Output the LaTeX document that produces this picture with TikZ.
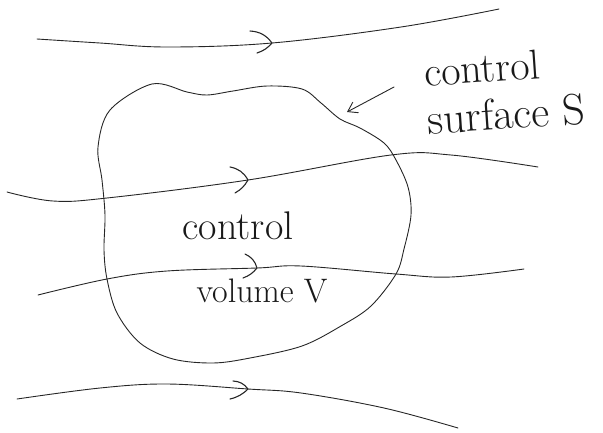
\documentclass[tikz,border=0pt]{standalone}
\usetikzlibrary{arrows.meta}
\begin{document}
\begin{tikzpicture}[x=1pt,y=-1pt,
  pencil/.style={draw=black!85,line width=0.9pt,line cap=round,line join=round},
  chev/.style={pencil,line width=1.1pt},
  hand/.style={text=black!90,inner sep=0pt,anchor=center}]
\useasboundingbox (0,0) rectangle (603,432);
% streamlines
\draw[pencil] plot[smooth,tension=0.6] coordinates {(37,39) (100,43) (167,47) (272,43) (401,27) (499,9)};
\draw[pencil] plot[smooth,tension=0.6] coordinates {(7,192) (53,201) (107,198) (248,180) (391,155) (451,155) (538,167)};
\draw[pencil] plot[smooth,tension=0.6] coordinates {(38,295) (107,279) (167,271) (257,268) (301,266) (396,274) (451,277) (524,269)};
\draw[pencil] plot[smooth,tension=0.6] coordinates {(17,399) (100,388) (167,384) (248,389) (301,393) (384,408) (458,428)};
% chevrons
\draw[chev] (250,31) to[bend left=25] (272,43) to[bend left=15] (257,53);
\draw[chev] (230,167) to[bend left=25] (248,180) to[bend left=15] (235,193);
\draw[chev] (245,254) to[bend left=25] (257,268) to[bend left=15] (243,278);
\draw[chev] (233,381) to[bend left=25] (248,389) to[bend left=15] (230,399);
% control surface
\draw[pencil] plot[smooth cycle,tension=0.55] coordinates {
 (152,84) (187,92) (207,95) (233,91) (267,86) (302,89) (321,103) (340,119)
 (360,128) (384,143) (396,160) (408,187) (411,215) (404,249) (396,274)
 (371,306) (341,326) (302,346) (250,358) (213,363) (173,359) (140,343)
 (117,313) (107,279) (104,250) (105,215) (102,180) (98,147) (110,110)};
% labels
\node[hand,font=\fontsize{42}{48}\selectfont,rotate=4] (lab1) at (482,68) {control};
\node[hand,font=\fontsize{44}{50}\selectfont,rotate=4] (lab2) at (506,114) {surface S};
\coordinate (tip) at (347,112);
\draw[pencil,-{Straight Barb[length=9pt,width=12pt]}] (394,87) -- (tip);
\node[hand,font=\fontsize{40}{48}\selectfont] (cv1) at (238,226) {control};
\node[hand,font=\fontsize{34}{40}\selectfont] (cv2) at (262,291) {volume V};
\end{tikzpicture}
\end{document}
